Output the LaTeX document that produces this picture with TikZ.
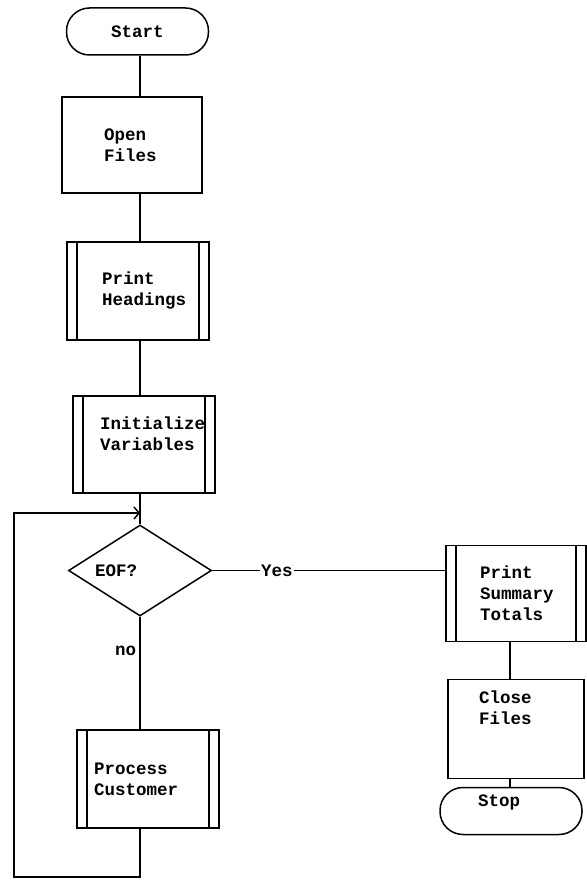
\documentclass[tikz,border=0pt]{standalone}
\usepackage{fontspec}
\setmonofont{Liberation Mono}
\usetikzlibrary{shapes.geometric, arrows.meta, positioning, calc}

\begin{document}
\begin{tikzpicture}[
    x=1pt, y=1pt,
    line width=1.5pt,
    font=\ttfamily\bfseries\fontsize{17.5}{21}\selectfont,
    terminal/.style={rectangle, draw, rounded corners=23pt, minimum width=142pt, minimum height=47pt, inner sep=0pt},
    procbox/.style={rectangle, draw, minimum width=140pt, minimum height=97pt, align=left, inner ysep=0pt},
    subproc/.style={procbox, path picture={
        \draw ([xshift=10pt]path picture bounding box.north west) -- ([xshift=10pt]path picture bounding box.south west);
        \draw ([xshift=-10pt]path picture bounding box.north east) -- ([xshift=-10pt]path picture bounding box.south east);}},
    decision/.style={diamond, draw, aspect=1.57, minimum width=143pt, minimum height=91pt, inner sep=0pt, align=left},
    line/.style={draw},
    loopline/.style={draw, -{Straight Barb[length=5pt, width=12pt]}}
]
    \useasboundingbox (0,0) rectangle (586,-880);

    % Nodes: main column
    \node (start) [terminal] at (137.5,-31.5) {Start};
    \node (open) [procbox, minimum height=96pt, inner xsep=42pt, text width=56pt, below=40.5pt of start, xshift=-5.5pt] {Open\\Files};
    \node (headings) [subproc, minimum width=142pt, minimum height=98pt, inner xsep=35pt, text width=72pt, below=47.5pt of open, xshift=6pt] {Print\\Headings};
    \node (init) [subproc, minimum width=142pt, inner xsep=27pt, text width=88pt, below=54.5pt of headings, xshift=6pt] {Initialize\\Variables\\~};
    \node (eof) [decision, text width=90pt, below=30.5pt of init, xshift=-4pt] {EOF?};
    \node (process) [subproc, minimum width=142pt, minimum height=98pt, inner xsep=17pt, text width=108pt, below=112.5pt of eof, xshift=8pt] {Process\\Customer};

    % Nodes: right column
    \node (summary) [subproc, minimum height=96pt, inner xsep=34pt, text width=72pt, right=233pt of eof, yshift=-23pt] {Print\\Summary\\Totals};
    \node (close) [procbox, minimum width=136pt, minimum height=99pt, inner xsep=31pt, text width=74pt, below=36.5pt of summary] {Close\\Files\\~\\~};
    \node (stop) [terminal, align=left, inner xsep=38pt, text width=66pt, below=7.5pt of close, xshift=-5pt] {Stop\\~};

    % Spine and loop coordinates
    \coordinate (merge) at (140,-513);
    \coordinate (loopbot) at (14,-877);
    \coordinate (rspine) at (510,-660);

    % Main column connectors
    \path [line] (start.south -| merge) -- (open.north -| merge);
    \path [line] (open.south -| merge) -- (headings.north -| merge);
    \path [line] (headings.south -| merge) -- (init.north -| merge);
    \path [line] (init.south -| merge) -- (eof.north);
    \path [line] (eof.south) -- node[left, pos=0.3, inner sep=3pt] {no} (process.north -| merge);

    % Loop back to the decision
    \path [loopline] (process.south -| merge) |- (loopbot) |- (merge);

    % Yes branch
    \path [line] (eof.east) -- node[fill=white, inner sep=1pt, pos=0.277] {Yes} (eof.east -| summary.west);
    \path [line] (summary.south -| rspine) -- (close.north -| rspine);
    \path [line] (close.south -| rspine) -- (stop.north -| rspine);

\end{tikzpicture}
\end{document}
